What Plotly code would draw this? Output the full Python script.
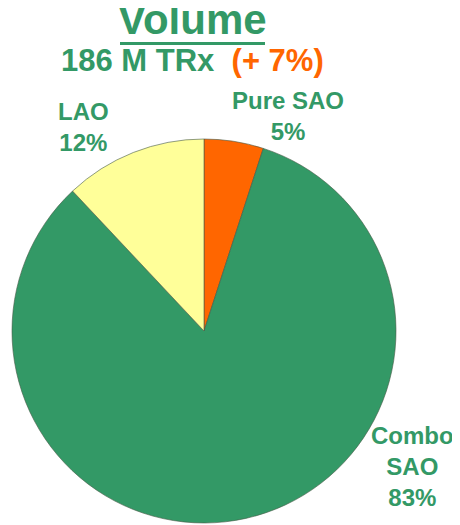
import plotly.graph_objects as go

segments = ["Pure SAO", "Combo SAO", "LAO"]
shares = [5, 83, 12]
slice_colors = ["#FF6600", "#339966", "#FFFF99"]
label_text = ["Pure SAO<br>5%", "Combo<br>SAO<br>83%", "LAO<br>12%"]

green = "#339966"
orange = "#FF6600"
font = "Liberation Sans, Arial, sans-serif"

# page body has an 8px margin, so the figure is drawn 8px in from the window corner
OFF = 8
W, H = 460 - OFF, 525 - OFF

def px(x):
    return (x - OFF) / W

def py(y):
    return 1 - (y - OFF) / H

fig = go.Figure(
    data=[go.Pie(
        labels=segments,
        values=shares,
        sort=False,
        direction="clockwise",
        rotation=0,
        marker=dict(colors=slice_colors, line=dict(color="rgba(70,90,70,0.6)", width=1)),
        textinfo="none",
        hoverinfo="label+percent",
        showlegend=False,
        domain=dict(x=[px(12), px(396)], y=[py(523), py(139)]),
    )]
)

def ann(txt, x, y, size, color=green):
    fig.add_annotation(
        text=txt, x=px(x), y=py(y), xref="paper", yref="paper",
        xanchor="center", yanchor="middle", showarrow=False,
        font=dict(family=font, size=size, color=color),
    )

ann("<b>Volume</b>", 192, 20, 42)
ann("<b>186 M TRx&nbsp;&nbsp;<span style='color:%s'>(+ 7%%)</span></b>" % orange, 192, 61, 31)

# slice labels sit outside the pie
ann("<b>" + label_text[0] + "</b>", 288, 116, 24)
ann("<b>" + label_text[2] + "</b>", 83, 127, 24)
ann("<b>" + label_text[1] + "</b>", 412, 466, 24)

# thick underline under the title
fig.add_shape(type="line", xref="paper", yref="paper",
              x0=px(120), x1=px(265), y0=py(43.5), y1=py(43.5),
              line=dict(color=green, width=3))

fig.update_layout(
    width=W, height=H,
    margin=dict(l=0, r=0, t=0, b=0),
    paper_bgcolor="white",
    plot_bgcolor="white",
)

fig.write_html("out.html")
